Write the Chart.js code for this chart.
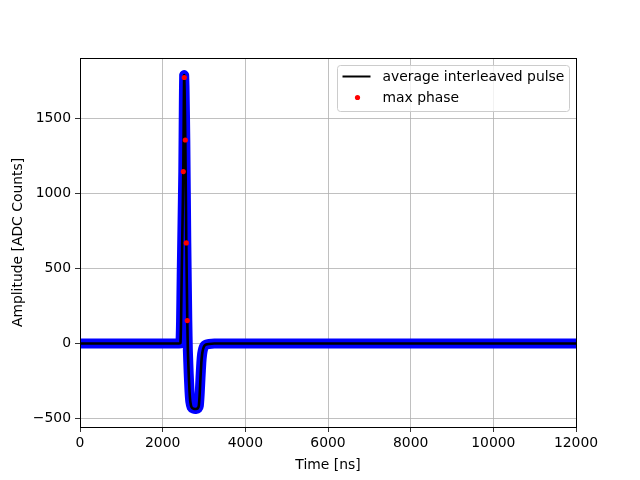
<!DOCTYPE html>
<html>
<head>
<meta charset="utf-8">
<script src="https://cdn.jsdelivr.net/npm/chart.js@4/dist/chart.umd.min.js"></script>
<style>
	html, body { margin: 0; padding: 0; background: #fff; }
	#wrap { width: 640px; height: 480px; }
</style>
</head>
<body>
<div id="wrap"><canvas id="pulseChart" width="640" height="480"></canvas></div>
<script>
// Average interleaved pulse (time in ns, amplitude in ADC counts)
const pulseTime = [0, 2400, 2430, 2445, 2460, 2480, 2499, 2512, 2520, 2530, 2548, 2572, 2596, 2610, 2630, 2650, 2670, 2700, 2750, 2800, 2850, 2875, 2895, 2915, 2935, 2955, 2980, 3010, 3050, 3120, 3250, 12000];
const pulseAmp = [0, 0, 2, 150, 450, 800, 1147, 1600, 1790, 1700, 1358, 671, 153, -50, -200, -320, -390, -425, -435, -437, -432, -415, -340, -230, -130, -70, -35, -15, -7, -3, 0, 0];

// Max phase samples
const maxPhaseTime = [2499, 2523, 2548, 2572, 2596];
const maxPhaseAmp = [1147, 1775, 1358, 671, 153];

const xTicks = [0, 2000, 4000, 6000, 8000, 10000, 12000];
const yTicks = [-500, 0, 500, 1000, 1500];

const legendItems = [
	{label: 'average interleaved pulse', kind: 'line', color: '#000000'},
	{label: 'max phase', kind: 'dot', color: '#ff0000'}
];

const FONT = 'DejaVu Sans';
const FONT_SIZE = 13.9;

function toPoints(xs, ys) {
	return xs.map(function(x, i) {
		return {x: x, y: ys[i]};
	});
}

// matplotlib style frame round the axes
const framePlugin = {
	id: 'frame',
	afterDatasetsDraw(chart) {
		const a = chart.chartArea;
		const ctx = chart.ctx;
		ctx.save();
		ctx.strokeStyle = '#000';
		ctx.lineWidth = 1;
		ctx.strokeRect(Math.round(a.left) + 0.5, Math.round(a.top) + 0.5, Math.round(a.right - a.left), Math.round(a.bottom - a.top));
		ctx.restore();
	}
};

// legend box in the upper right of the axes
const boxLegendPlugin = {
	id: 'boxLegend',
	afterDraw(chart) {
		const a = chart.chartArea;
		const ctx = chart.ctx;
		const w = 232, h = 46;
		const x0 = a.right - 7 - w + 0.5, y0 = a.top + 7 + 0.5;
		ctx.save();
		ctx.beginPath();
		ctx.roundRect(x0, y0, w, h, 3);
		ctx.fillStyle = 'rgba(255,255,255,0.8)';
		ctx.fill();
		ctx.strokeStyle = '#cccccc';
		ctx.lineWidth = 1;
		ctx.stroke();

		ctx.font = FONT_SIZE + 'px "' + FONT + '"';
		ctx.textBaseline = 'middle';
		ctx.fillStyle = '#000';
		legendItems.forEach(function(item, i) {
			const cy = y0 + 11 + i * 21;
			if (item.kind === 'line') {
				ctx.strokeStyle = item.color;
				ctx.lineWidth = 2;
				ctx.beginPath();
				ctx.moveTo(x0 + 5, cy);
				ctx.lineTo(x0 + 33, cy);
				ctx.stroke();
			} else {
				ctx.fillStyle = item.color;
				ctx.beginPath();
				ctx.arc(x0 + 20, cy, 2.6, 0, Math.PI * 2);
				ctx.fill();
			}
			ctx.fillStyle = '#000';
			ctx.fillText(item.label, x0 + 45, cy + 1);
		});
		ctx.restore();
	}
};

new Chart(document.getElementById('pulseChart'), {
	type: 'line',
	data: {
		datasets: [
			{
				label: 'max phase',
				data: toPoints(maxPhaseTime, maxPhaseAmp),
				showLine: false,
				pointRadius: 2.6,
				pointBorderWidth: 0,
				pointBackgroundColor: '#ff0000',
				order: 1
			},
			{
				label: 'average interleaved pulse',
				data: toPoints(pulseTime, pulseAmp),
				borderColor: '#000000',
				borderWidth: 2.6,
				pointRadius: 0,
				tension: 0.15,
				borderJoinStyle: 'round',
				order: 2
			},
			{
				label: 'samples',
				data: toPoints(pulseTime, pulseAmp),
				borderColor: '#0000ff',
				borderWidth: 10,
				pointRadius: 0,
				tension: 0.15,
				borderJoinStyle: 'round',
				borderCapStyle: 'round',
				order: 3
			}
		]
	},
	options: {
		responsive: false,
		animation: false,
		devicePixelRatio: 1,
		layout: {
			padding: {left: 0, right: 64, top: 58, bottom: 0}
		},
		plugins: {
			legend: {display: false},
			tooltip: {enabled: false}
		},
		scales: {
			x: {
				type: 'linear',
				min: 0,
				max: 12000,
				afterBuildTicks: function(scale) {
					scale.ticks = xTicks.map(function(v) { return {value: v}; });
				},
				afterFit: function(scale) {
					scale.height = 53;
				},
				grid: {
					color: '#b0b0b0',
					lineWidth: 0.8,
					tickColor: '#000',
					tickLength: 5,
					drawTicks: true
				},
				border: {display: false},
				ticks: {
					color: '#000',
					padding: 3,
					maxRotation: 0,
					autoSkip: false,
					font: {family: FONT, size: FONT_SIZE},
					callback: function(v) { return String(v); }
				},
				title: {
					display: true,
					text: 'Time [ns]',
					color: '#000',
					font: {family: FONT, size: FONT_SIZE},
					padding: {top: 2, bottom: 6}
				}
			},
			y: {
				type: 'linear',
				min: -557,
				max: 1905,
				afterBuildTicks: function(scale) {
					scale.ticks = yTicks.map(function(v) { return {value: v}; });
				},
				afterFit: function(scale) {
					scale.width = 80;
				},
				grid: {
					color: '#b0b0b0',
					lineWidth: 0.8,
					tickColor: '#000',
					tickLength: 5,
					drawTicks: true
				},
				border: {display: false},
				ticks: {
					color: '#000',
					padding: 4,
					autoSkip: false,
					font: {family: FONT, size: FONT_SIZE},
					callback: function(v) { return String(v).replace('-', '\u2212'); }
				},
				title: {
					display: true,
					text: 'Amplitude [ADC Counts]',
					color: '#000',
					font: {family: FONT, size: FONT_SIZE},
					padding: {top: 10, bottom: 0}
				}
			}
		}
	},
	plugins: [framePlugin, boxLegendPlugin]
});
</script>
</body>
</html>
